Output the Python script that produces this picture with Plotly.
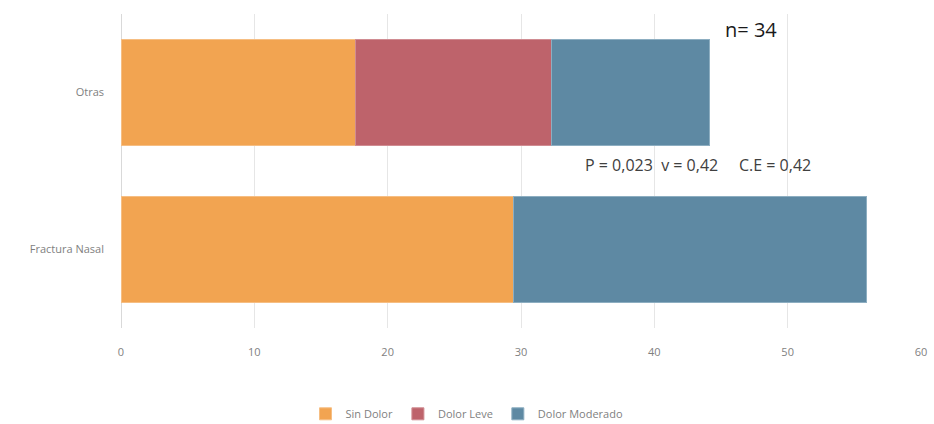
import plotly.graph_objects as go

# Pain level distribution (%) by fracture type, n = 34
categories = ["Fractura Nasal", "Otras"]
sin_dolor = [29.4, 17.6]
dolor_leve = [0.0, 14.7]
dolor_moderado = [26.5, 11.8]

series = [
    ("Sin Dolor", sin_dolor, "#F2A451", "#F6BE83"),
    ("Dolor Leve", dolor_leve, "#BE636B", "#D08C92"),
    ("Dolor Moderado", dolor_moderado, "#5E89A3", "#8DAEC1"),
]

x_ticks = [0, 10, 20, 30, 40, 50, 60]

fig = go.Figure()
for name, vals, color, edge in series:
    fig.add_trace(go.Bar(
        y=categories, x=vals, name=name, orientation="h",
        marker=dict(color=color, line=dict(color=edge, width=1)),
    ))

font_family = "Open Sans, Liberation Sans, sans-serif"

fig.update_layout(
    barmode="stack",
    bargap=0.325,
    width=934, height=424,
    margin=dict(l=121, r=13, t=14, b=96, autoexpand=False),
    paper_bgcolor="white", plot_bgcolor="white",
    font=dict(family=font_family, size=11, color="#7F7F7F"),
    showlegend=True,
    legend=dict(
        orientation="h", xref="container", yref="container",
        x=0.5, xanchor="center", y=0.024, yanchor="middle",
        font=dict(size=11, color="#7F7F7F"),
        itemwidth=30, traceorder="normal",
    ),
    xaxis=dict(
        range=[0, 60], tickvals=x_ticks, ticktext=[str(v) for v in x_ticks],
        showgrid=True, gridcolor="#E6E6E6", gridwidth=1,
        zeroline=True, zerolinecolor="#D9D9D9", zerolinewidth=1,
        showline=False, ticks="", ticklabelstandoff=16, automargin=False,
        tickfont=dict(size=11, color="#7F7F7F"),
    ),
    yaxis=dict(
        categoryorder="array", categoryarray=categories,
        showgrid=False, zeroline=False, showline=False,
        ticks="", ticklabelstandoff=16, automargin=False,
        tickfont=dict(size=11, color="#7F7F7F"),
    ),
    annotations=[
        dict(text="n= 34", xref="paper", yref="paper", x=0.752, y=0.95,
             xanchor="left", yanchor="middle", showarrow=False,
             font=dict(size=20, color="#1A1A1A", family=font_family)),
        dict(text="P = 0,023  v = 0,42     C.E = 0,42", xref="paper", yref="paper",
             x=0.578, y=0.52, xanchor="left", yanchor="middle", showarrow=False,
             font=dict(size=16, color="#404040", family=font_family)),
    ],
)

fig.write_html("out.html")
